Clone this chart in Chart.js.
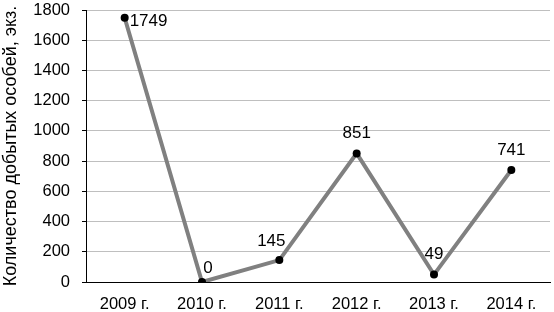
<!DOCTYPE html>
<html><head><meta charset="utf-8">
<script src="https://cdn.jsdelivr.net/npm/chart.js@4"></script>
<style>html,body{margin:0;padding:0;background:#fff}#w{width:554px;height:312px}</style>
</head><body><div id="w"><canvas id="c"></canvas></div>
<script>
const categories = ['2009 г.', '2010 г.', '2011 г.', '2012 г.', '2013 г.', '2014 г.'];
const values = [1749, 0, 145, 851, 49, 741];
const yTitle = 'Количество добытых особей, экз.';
const labelPlacement = ['right', 'aboveRight', 'aboveLeft', 'above', 'above', 'above'];

const FONT = "'Liberation Sans', Arial, sans-serif";

const labelPlugin = {
  id: 'vlabels',
  afterDatasetsDraw(chart) {
    const ctx = chart.ctx;
    const meta = chart.getDatasetMeta(0);
    ctx.save();
    ctx.font = '17px ' + FONT;
    ctx.fillStyle = '#000';
    ctx.textBaseline = 'middle';
    meta.data.forEach((pt, i) => {
      const t = String(values[i]);
      const p = labelPlacement[i];
      let x = pt.x, y = pt.y;
      if (p === 'right') { ctx.textAlign = 'left'; x += 5; y += 4; }
      else if (p === 'aboveRight') { ctx.textAlign = 'center'; x += 6; y -= 14; }
      else if (p === 'aboveLeft') { ctx.textAlign = 'center'; x -= 8; y -= 19; }
      else { ctx.textAlign = 'center'; y -= 20; }
      ctx.fillText(t, x, y);
    });
    ctx.restore();
  }
};

new Chart(document.getElementById('c'), {
  type: 'line',
  data: {
    labels: categories,
    datasets: [{
      data: values,
      borderColor: '#808080',
      borderWidth: 4,
      pointBackgroundColor: '#000',
      pointBorderColor: '#000',
      pointRadius: 4,
      pointBorderWidth: 0,
      tension: 0,
      fill: false
    }]
  },
  options: {
    responsive: true,
    maintainAspectRatio: false,
    animation: false,
    layout: { padding: { top: 10, right: 0, left: 0, bottom: 0 } },
    plugins: { legend: { display: false }, tooltip: { enabled: false } },
    scales: {
      x: {
        offset: true,
        grid: { display: false, drawTicks: false },
        border: { display: true, color: '#000', width: 1 },
        ticks: { color: '#000', font: { size: 16.5, family: FONT }, padding: 13, maxRotation: 0 },
        afterFit(s) { s.height = 30; s.paddingLeft = 0; s.paddingRight = 0; }
      },
      y: {
        min: 0, max: 1800,
        ticks: { stepSize: 200, color: '#000', font: { size: 16.5, family: FONT }, padding: 12,
                 callback: v => String(v) },
        grid: { color: '#bfbfbf', lineWidth: 1, tickLength: 4, drawTicks: true, tickColor: '#000' },
        border: { display: true, color: '#000', width: 1 },
        title: { display: true, text: yTitle, color: '#000', font: { size: 18, family: FONT }, padding: { top: 0, bottom: 0 } },
        afterFit(s) { s.width = 86; s.paddingTop = 0; s.paddingBottom = 0; }
      }
    }
  },
  plugins: [labelPlugin]
});
</script>
</body></html>
